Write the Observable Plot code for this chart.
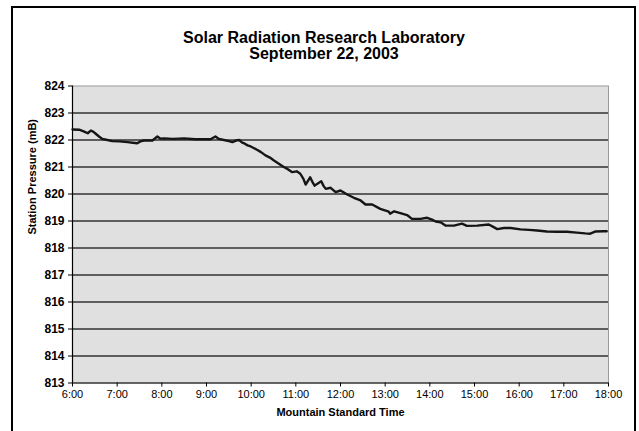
<!DOCTYPE html>
<html><head><meta charset="utf-8">
<script src="https://cdn.jsdelivr.net/npm/d3@7"></script>
<script src="https://cdn.jsdelivr.net/npm/@observablehq/plot@0.6"></script>
<style>
body{margin:0;background:#fff;}
#wrap{position:relative;width:639px;height:431px;overflow:hidden;background:#fff;}
#frame{position:absolute;left:11px;top:6px;width:625px;height:460px;border:2px solid #000;box-sizing:border-box;}
#wrap svg{position:absolute;left:0;top:0;}
</style></head>
<body><div id="wrap"><div id="frame"></div></div>
<script>
const titleLines = ["Solar Radiation Research Laboratory", "September 22, 2003"];
const xLabel = "Mountain Standard Time";
const yLabel = "Station Pressure (mB)";
const xTicks = [6, 7, 8, 9, 10, 11, 12, 13, 14, 15, 16, 17, 18];
const xTickLabels = ["6:00","7:00","8:00","9:00","10:00","11:00","12:00","13:00","14:00","15:00","16:00","17:00","18:00"];
const yTicks = [813, 814, 815, 816, 817, 818, 819, 820, 821, 822, 823, 824];

// time in decimal hours (MST) and station pressure (mB)
const hours = [6.00,6.15,6.25,6.34,6.41,6.47,6.52,6.60,6.67,6.78,6.89,7.05,7.23,7.35,7.45,7.52,7.60,7.79,7.90,7.97,8.05,8.25,8.50,8.75,9.09,9.20,9.28,9.39,9.50,9.58,9.66,9.73,9.80,9.84,9.92,9.99,10.14,10.22,10.32,10.42,10.51,10.62,10.73,10.82,10.92,11.02,11.10,11.17,11.22,11.32,11.37,11.42,11.50,11.57,11.62,11.67,11.78,11.89,12.00,12.15,12.30,12.45,12.56,12.71,12.89,13.08,13.11,13.20,13.34,13.49,13.60,13.79,13.94,14.05,14.13,14.24,14.35,14.54,14.72,14.83,15.06,15.32,15.40,15.51,15.66,15.81,16.03,16.22,16.40,16.62,16.85,17.07,17.29,17.48,17.59,17.70,17.89,17.96];
const pressure = [822.39,822.38,822.32,822.25,822.35,822.30,822.23,822.12,822.04,822.00,821.96,821.95,821.92,821.90,821.88,821.95,821.98,821.98,822.13,822.05,822.06,822.04,822.06,822.03,822.03,822.13,822.04,822.00,821.96,821.92,821.98,822.00,821.90,821.88,821.80,821.76,821.63,821.55,821.43,821.35,821.24,821.12,821.00,820.92,820.81,820.84,820.75,820.56,820.35,820.62,820.45,820.31,820.40,820.47,820.30,820.19,820.23,820.07,820.13,819.98,819.86,819.76,819.61,819.61,819.45,819.35,819.27,819.36,819.29,819.22,819.08,819.08,819.12,819.05,818.98,818.95,818.83,818.83,818.90,818.82,818.83,818.87,818.80,818.70,818.74,818.74,818.69,818.67,818.65,818.61,818.60,818.60,818.57,818.54,818.53,818.61,818.62,818.62];

const data = hours.map((h, i) => ({h, p: pressure[i]}));
const font = "'Liberation Sans', Arial, Helvetica, sans-serif";

const chart = Plot.plot({
  width: 639,
  height: 431,
  marginLeft: 72,
  marginRight: 31,
  marginTop: 85.5,
  marginBottom: 48.5,
  style: {fontFamily: font, background: "transparent", color: "#000"},
  x: {domain: [6, 18]},
  y: {domain: [813, 824]},
  marks: [
    Plot.frame({fill: "#e0e0e0", stroke: "#9a9a9a"}),
    Plot.ruleY(yTicks.filter(d => d > 813 && d < 824), {stroke: "#333", strokeWidth: 1.3}),
    Plot.ruleX([6], {stroke: "#000", strokeWidth: 1.2}),
    Plot.ruleY([813], {stroke: "#000", strokeWidth: 1.2}),
    Plot.axisY({ticks: yTicks, tickSize: 4, tickPadding: 4, fontSize: 12, fontWeight: "bold", label: null, stroke: "#000"}),
    Plot.axisX({ticks: xTicks, tickFormat: d => xTickLabels[xTicks.indexOf(d)], tickSize: 4, tickPadding: 3, fontSize: 11, label: null}),
    Plot.line(data, {x: "h", y: "p", stroke: "#151515", strokeWidth: 2.4, strokeLinejoin: "round"}),
    Plot.text([yLabel], {frameAnchor: "left", dx: -40, rotate: -90, fontSize: 11, fontWeight: "bold", lineAnchor: "middle"}),
    Plot.text([xLabel], {frameAnchor: "bottom", dy: 29.5, fontSize: 11, fontWeight: "bold", lineAnchor: "middle"}),
    Plot.text([titleLines[0]], {frameAnchor: "top", dx: -16.5, dy: -48.5, fontSize: 16, fontWeight: "bold", lineAnchor: "middle"}),
    Plot.text([titleLines[1]], {frameAnchor: "top", dx: -16.5, dy: -32.5, fontSize: 16, fontWeight: "bold", lineAnchor: "middle"})
  ]
});
document.getElementById("wrap").appendChild(chart);
</script>
</body></html>
